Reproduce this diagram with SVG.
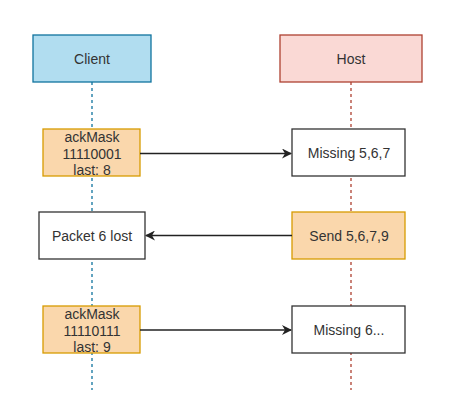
<svg xmlns="http://www.w3.org/2000/svg" width="458" height="402" viewBox="0 0 458 402">
<defs>
<style>
text{font-family:"Liberation Sans",Arial,sans-serif;font-size:14px;fill:#333;text-anchor:middle}
.orange{fill:#fad7ac;stroke:#d79b00;stroke-width:1.3}
.white{fill:#fff;stroke:#333;stroke-width:1.3}
.conn{stroke:#222;stroke-width:1.3;fill:none}
</style>
<marker id="ah" viewBox="0 0 10 10" refX="9" refY="5" markerWidth="10" markerHeight="10" markerUnits="userSpaceOnUse" orient="auto">
<path d="M0,0 L10,5 L0,10 L3,5 Z" fill="#222"/>
</marker>
</defs>
<rect width="458" height="402" fill="#fff"/>
<g id="lifelines">
<line x1="92" y1="82" x2="92" y2="390" stroke="#10739e" stroke-width="1.3" stroke-dasharray="3,3"/>
<line x1="351" y1="82" x2="351" y2="390" stroke="#ae4132" stroke-width="1.3" stroke-dasharray="3,3"/>
</g>
<g id="client">
<rect x="33" y="35" width="118" height="47" fill="#b1ddf0" stroke="#10739e" stroke-width="1.3"/>
<text x="92" y="63.5">Client</text>
</g>
<g id="host">
<rect x="280" y="35" width="142" height="47" fill="#fad9d5" stroke="#ae4132" stroke-width="1.3"/>
<text x="351" y="63.5">Host</text>
</g>
<g id="ack1">
<rect class="orange" x="43" y="129" width="97" height="47"/>
<text x="92" y="142">ackMask</text>
<text x="92" y="158.5">11110001</text>
<text x="92" y="175">last: 8</text>
</g>
<g id="missing1">
<rect class="white" x="292" y="129" width="113" height="47"/>
<text x="349" y="158">Missing 5,6,7</text>
</g>
<g id="packetlost">
<rect class="white" x="39" y="212" width="106" height="47"/>
<text x="92" y="240.5">Packet 6 lost</text>
</g>
<g id="send">
<rect class="orange" x="292" y="212" width="113" height="47"/>
<text x="349" y="240.5">Send 5,6,7,9</text>
</g>
<g id="ack2">
<rect class="orange" x="43" y="306" width="97" height="47"/>
<text x="92" y="319">ackMask</text>
<text x="92" y="335.5">11110111</text>
<text x="92" y="352">last: 9</text>
</g>
<g id="missing2">
<rect class="white" x="292" y="306" width="113" height="47"/>
<text x="349" y="335">Missing 6...</text>
</g>
<g id="connectors">
<line class="conn" x1="140" y1="153.5" x2="291" y2="153.5" marker-end="url(#ah)"/>
<line class="conn" x1="292" y1="235.5" x2="146" y2="235.5" marker-end="url(#ah)"/>
<line class="conn" x1="140" y1="330" x2="291" y2="330" marker-end="url(#ah)"/>
</g>
</svg>
